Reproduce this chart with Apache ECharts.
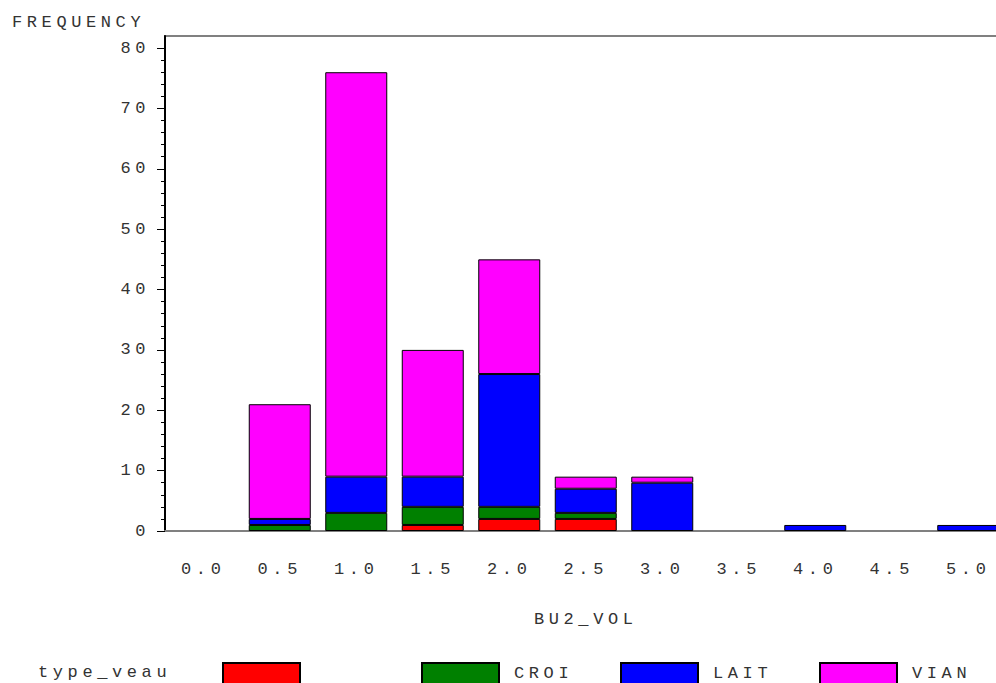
<!DOCTYPE html>
<html>
<head>
<meta charset="utf-8">
<script src="https://cdn.jsdelivr.net/npm/echarts@6/dist/echarts.min.js"></script>
<style>
  html, body { margin: 0; padding: 0; background: #fff; }
  #chart { width: 996px; height: 683px; }
  #chart text { letter-spacing: 4.6px; }
</style>
</head>
<body>
<div id="chart"></div>
<script>
// BU2_VOL classes
const volClasses = ['0.0', '0.5', '1.0', '1.5', '2.0', '2.5', '3.0', '3.5', '4.0', '4.5', '5.0'];

// counts per type_veau, stacked bottom -> top
const blankCounts = [0, 0, 0, 1, 2, 2, 0, 0, 0, 0, 0];
const croiCounts  = [0, 1, 3, 3, 2, 1, 0, 0, 0, 0, 0];
const laitCounts  = [0, 1, 6, 5, 22, 4, 8, 0, 1, 0, 1];
const vianCounts  = [0, 19, 67, 21, 19, 2, 1, 0, 0, 0, 0];

const majorTicks = [0, 10, 20, 30, 40, 50, 60, 70, 80];
const minorTicks = [2, 4, 6, 8, 12, 14, 16, 18, 22, 24, 26, 28, 32, 34, 36, 38,
  42, 44, 46, 48, 52, 54, 56, 58, 62, 64, 66, 68, 72, 74, 76, 78];

const font = 'Liberation Mono';
const txt = { fontFamily: font, fontSize: 17, color: '#333' };

const groups = [
  { name: ' ', data: blankCounts, color: '#ff0000', left: 222 },
  { name: 'CROI', data: croiCounts, color: '#008000', left: 421 },
  { name: 'LAIT', data: laitCounts, color: '#0000ff', left: 620 },
  { name: 'VIAN', data: vianCounts, color: '#ff00ff', left: 819 }
];

const chart = echarts.init(document.getElementById('chart'), null, { renderer: 'svg' });

chart.setOption({
  animation: false,
  backgroundColor: '#fff',
  title: [
    { text: 'FREQUENCY', left: 12, top: 14, padding: 0, textStyle: { ...txt, fontWeight: 'normal' } },
    { text: 'type_veau', left: 38, top: 664, padding: 0, textStyle: { ...txt, fontWeight: 'normal' } }
  ],
  legend: groups.map(g => ({
    data: [g.name],
    left: g.left,
    top: 662,
    padding: 0,
    icon: 'rect',
    itemWidth: 77,
    itemHeight: 21,
    selectedMode: false,
    textStyle: { ...txt, padding: [0, 0, 0, 10] }
  })),
  grid: {
    left: 165, right: -10.5, top: 36, bottom: 152,
    outerBoundsMode: 'none',
    containLabel: false,
    show: true, borderColor: '#808080', borderWidth: 2
  },
  xAxis: {
    type: 'category',
    data: volClasses,
    name: 'BU2_VOL',
    nameLocation: 'middle',
    nameGap: 80,
    nameTextStyle: txt,
    axisLine: { lineStyle: { color: '#808080', width: 2 } },
    axisTick: { show: false },
    axisLabel: { ...txt, margin: 30, interval: 0 }
  },
  yAxis: [
    {
      type: 'value', min: 0, max: 82,
      axisLine: { show: true, lineStyle: { color: '#000', width: 2 } },
      axisTick: { show: true, length: 8, lineStyle: { color: '#000' }, customValues: majorTicks },
      axisLabel: { ...txt, margin: 15, customValues: majorTicks },
      splitLine: { show: false }
    },
    {
      type: 'value', min: 0, max: 82, position: 'left',
      axisLine: { show: false },
      axisTick: { show: true, length: 4, lineStyle: { color: '#000' }, customValues: minorTicks },
      axisLabel: { show: false },
      splitLine: { show: false }
    }
  ],
  series: groups.map(g => ({
    name: g.name,
    type: 'bar',
    stack: 'vol',
    barWidth: 62,
    data: g.data.map(v => v === 0 ? null : v),
    itemStyle: { color: g.color, borderColor: '#000', borderWidth: 1 }
  }))
});
</script>
</body>
</html>
